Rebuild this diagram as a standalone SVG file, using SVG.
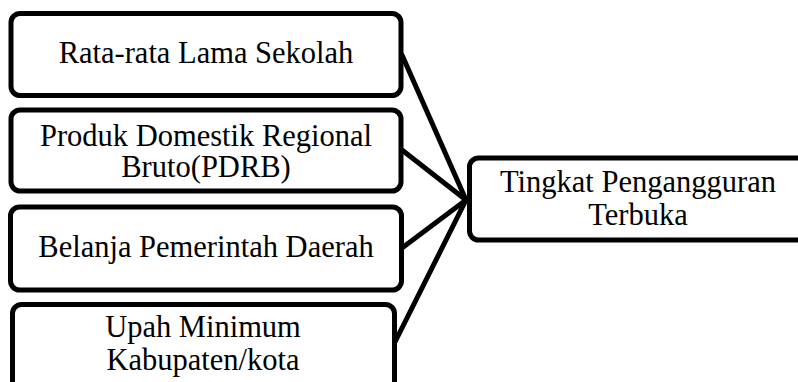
<svg xmlns="http://www.w3.org/2000/svg" width="798" height="382" viewBox="0 0 798 382">
<style>
.box{fill:#fff;stroke:#000;stroke-width:5}
.t{font-family:"Liberation Serif","Times New Roman",serif;font-size:30.5px;fill:#000;text-anchor:middle}
.c{stroke:#000;stroke-width:5;fill:none;stroke-linecap:round}
</style>
<rect width="798" height="382" fill="#fff"/>
<g id="connectors">
<line class="c" x1="402" y1="55" x2="466" y2="200"/>
<line class="c" x1="402" y1="150" x2="466" y2="200"/>
<line class="c" x1="402" y1="248" x2="466" y2="200"/>
<line class="c" x1="395" y1="342" x2="466" y2="200"/>
</g>
<g id="n1">
<rect class="box" x="11" y="13.5" width="390" height="82" rx="9"/>
<text class="t" x="206" y="63">Rata-rata Lama Sekolah</text>
</g>
<g id="n2">
<rect class="box" x="11" y="110" width="390" height="81" rx="9"/>
<text class="t" x="206" y="146">Produk Domestik Regional</text>
<text class="t" x="206" y="177">Bruto(PDRB)</text>
</g>
<g id="n3">
<rect class="box" x="10.5" y="207" width="391" height="83" rx="9"/>
<text class="t" x="206" y="257">Belanja Pemerintah Daerah</text>
</g>
<g id="n4">
<rect class="box" x="12.5" y="304.5" width="382" height="86" rx="9"/>
<text class="t" x="203" y="337">Upah Minimum</text>
<text class="t" x="203" y="370">Kabupaten/kota</text>
</g>
<g id="n5">
<rect class="box" x="469.5" y="158" width="340" height="82" rx="9"/>
<text class="t" x="638" y="192">Tingkat Pengangguran</text>
<text class="t" x="638" y="225">Terbuka</text>
</g>
</svg>
